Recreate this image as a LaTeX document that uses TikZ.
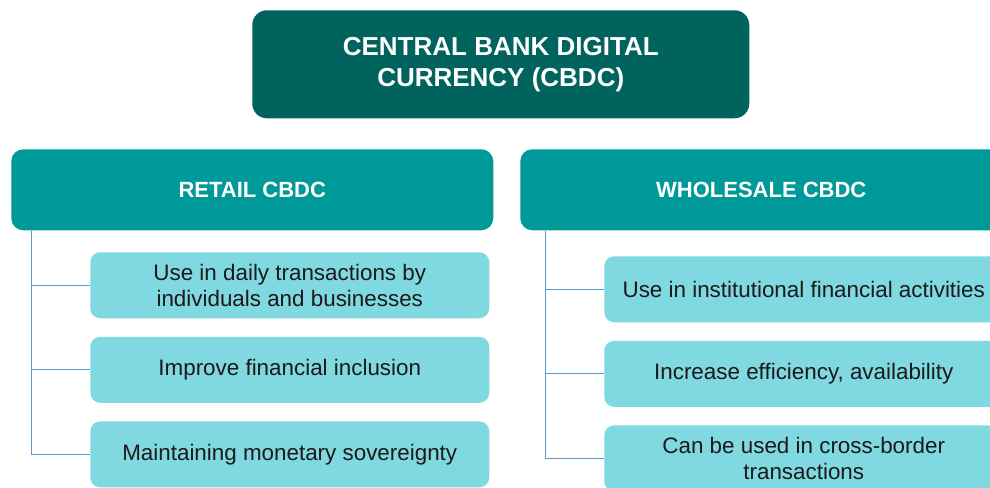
\documentclass[tikz,border=0pt]{standalone}
\usepackage{fontspec}
\setmainfont{Liberation Sans}
\usetikzlibrary{positioning}
\definecolor{cbdcdark}{HTML}{00635E}
\definecolor{cbdcmid}{HTML}{009999}
\definecolor{cbdclight}{HTML}{80D8E0}
\definecolor{cbdcline}{HTML}{5B9BD5}
\definecolor{cbdctext}{HTML}{1A1A1A}
\begin{document}
\begin{tikzpicture}[x=0.75pt, y=-0.75pt, node distance=13.5pt,
    rootbox/.style = {fill=cbdcdark, rounded corners=11pt, minimum width=372.75pt, minimum height=81pt, inner sep=0pt, text=white, align=center, font=\bfseries\fontsize{19.5pt}{23.25pt}\selectfont},
    headbox/.style = {fill=cbdcmid, rounded corners=9pt, minimum width=361.5pt, minimum height=60.75pt, inner sep=0pt, text=white, font=\bfseries\fontsize{16.5pt}{19.5pt}\selectfont},
    itembox/.style = {fill=cbdclight, rounded corners=7.5pt, minimum width=299.25pt, minimum height=49.5pt, inner sep=0pt, text=cbdctext, align=center, font=\fontsize{16.8pt}{19.5pt}\selectfont},
    link/.style = {draw=cbdcline, line width=0.6pt}]
    \clip (0,0) rectangle (990,487);

    \node[rootbox, anchor=north west] (cbdc) at (252,10) {CENTRAL BANK DIGITAL\\CURRENCY (CBDC)};
    \node[headbox, anchor=north west] (retail) at (11,149) {RETAIL CBDC};
    \node[headbox, anchor=north west] (wholesale) at (520,149) {WHOLESALE CBDC};

    % retail side
    \node[itembox, anchor=north west] (r1) at (90,252) {Use in daily transactions by\\individuals and businesses};
    \node[itembox] (r2) [below=of r1] {Improve financial inclusion};
    \node[itembox] (r3) [below=of r2] {Maintaining monetary sovereignty};

    % wholesale side
    \node[itembox, anchor=north west] (w1) at (604,256) {Use in institutional financial activities};
    \node[itembox] (w2) [below=of w1] {Increase efficiency, availability};
    \node[itembox] (w3) [below=of w2] {Can be used in cross-border\\transactions};

    \coordinate (rtrunk) at ([xshift=15pt]retail.south west);
    \coordinate (wtrunk) at ([xshift=18.75pt]wholesale.south west);
    \draw[link] (rtrunk) |- (r1.west);
    \draw[link] (rtrunk) |- (r2.west);
    \draw[link] (rtrunk) |- (r3.west);
    \draw[link] (wtrunk) |- (w1.west);
    \draw[link] (wtrunk) |- (w2.west);
    \draw[link] (wtrunk) |- (w3.west);
\end{tikzpicture}
\end{document}
